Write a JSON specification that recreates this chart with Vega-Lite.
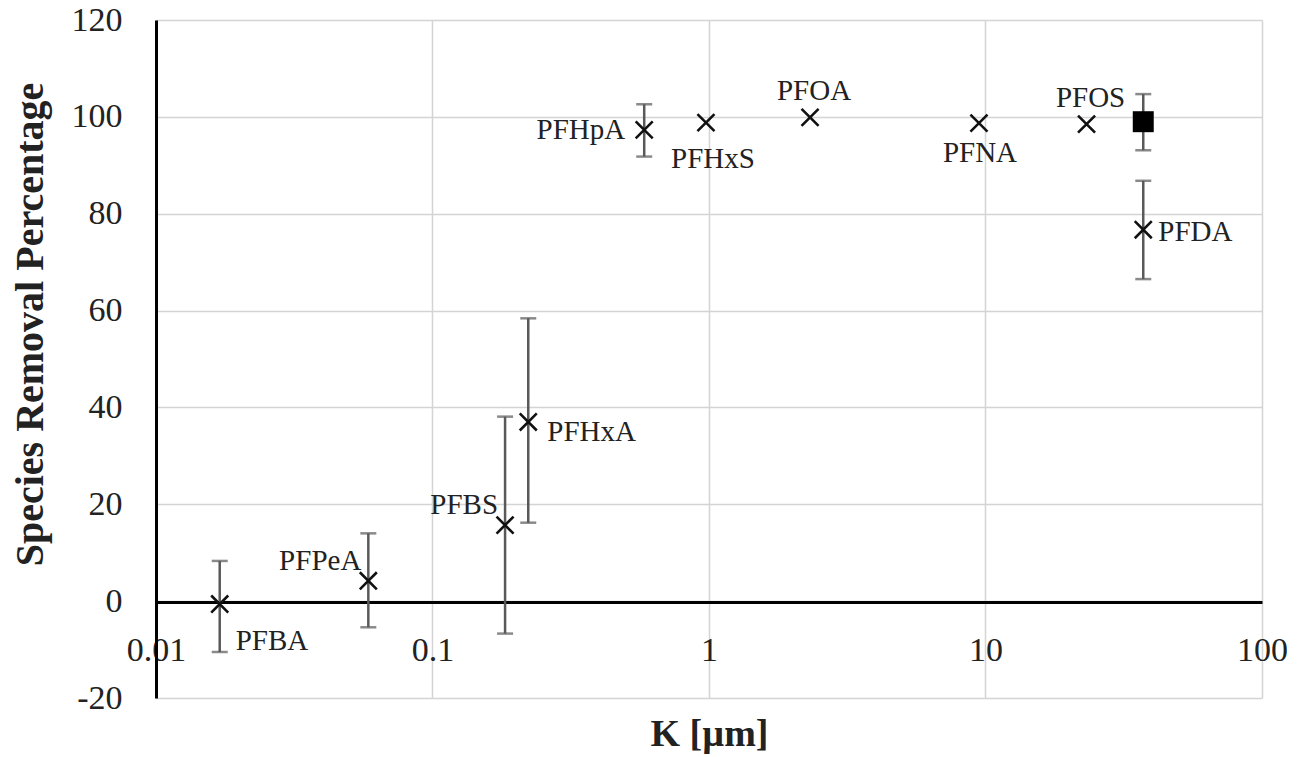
{
  "$schema": "https://vega.github.io/schema/vega-lite/v6.json",
  "autosize": {"type": "none"},
  "padding": {"left": 156, "top": 20, "right": 49, "bottom": 59},
  "width": 1106,
  "height": 678,
  "background": "white",
  "config": {
    "view": {"stroke": null},
    "font": "Liberation Serif",
    "axis": {"labelFont": "Liberation Serif", "titleFont": "Liberation Serif", "labelColor": "#222", "titleColor": "#222"}
  },
  "data": {
    "values": [
      {"species": "PFBA", "k": 0.0170, "pct": -0.6, "lo": -10.5, "hi": 8.3, "kind": "x"},
      {"species": "PFPeA", "k": 0.0586, "pct": 4.2, "lo": -5.4, "hi": 14.0, "kind": "x"},
      {"species": "PFBS", "k": 0.183, "pct": 15.7, "lo": -6.7, "hi": 38.1, "kind": "x"},
      {"species": "PFHxA", "k": 0.222, "pct": 37.0, "lo": 16.2, "hi": 58.4, "kind": "x"},
      {"species": "PFHpA", "k": 0.583, "pct": 97.3, "lo": 91.8, "hi": 102.6, "kind": "x"},
      {"species": "PFHxS", "k": 0.975, "pct": 98.8, "lo": null, "hi": null, "kind": "x"},
      {"species": "PFOA", "k": 2.32, "pct": 99.9, "lo": null, "hi": null, "kind": "x"},
      {"species": "PFNA", "k": 9.47, "pct": 98.7, "lo": null, "hi": null, "kind": "x"},
      {"species": "PFOS", "k": 23.2, "pct": 98.5, "lo": null, "hi": null, "kind": "x"},
      {"species": "PFDA", "k": 37.2, "pct": 76.7, "lo": 66.5, "hi": 86.8, "kind": "x"},
      {"species": "Total", "k": 37.2, "pct": 99.0, "lo": 93.1, "hi": 104.7, "kind": "square"}
    ]
  },
  "encoding": {
    "x": {
      "field": "k", "type": "quantitative",
      "scale": {"type": "log", "domain": [0.01, 100], "nice": false},
      "axis": {
        "title": "K [µm]", "titleFontSize": 38, "titleFontWeight": "bold", "titleY": 143, "titleBaseline": "alphabetic",
        "values": [0.01, 0.1, 1, 10, 100], "format": "~g",
        "offset": -96, "labelFlush": false, "labelOverlap": false,
        "labelFontSize": 34, "labelBaseline": "alphabetic", "labelPadding": 58,
        "ticks": false, "domainColor": "#000", "domainWidth": 3,
        "grid": true, "gridColor": "#d4d4d4", "gridWidth": 1.5
      }
    },
    "y": {
      "field": "pct", "type": "quantitative",
      "scale": {"domain": [-20, 120], "nice": false},
      "axis": {
        "title": "Species Removal Percentage", "titleFontSize": 40, "titleFontWeight": "bold",
        "titleX": -114, "titleY": 304, "titleBaseline": "alphabetic", "titleAlign": "center", "titleAngle": -90,
        "values": [-20, 0, 20, 40, 60, 80, 100, 120],
        "labelExpr": "datum.value < 0 ? '-' + abs(datum.value) : '' + datum.value",
        "labelFontSize": 34, "labelPadding": 34, "ticks": false,
        "domainColor": "#000", "domainWidth": 3,
        "grid": true, "gridColor": "#d4d4d4", "gridWidth": 1.5
      }
    }
  },
  "layer": [
    {
      "transform": [{"filter": "datum.lo != null"}],
      "mark": {"type": "errorbar", "ticks": {"size": 16, "thickness": 2.5, "color": "#595959"}, "rule": {"strokeWidth": 2.5, "color": "#595959"}},
      "encoding": {
        "y": {"field": "lo", "type": "quantitative", "title": "Species Removal Percentage"},
        "y2": {"field": "hi"}
      }
    },
    {
      "transform": [{"filter": "datum.kind == 'x'"}],
      "mark": {"type": "point", "shape": "M-1,-1L1,1M-1,1L1,-1", "filled": false, "stroke": "#111", "strokeWidth": 2.6, "size": 290, "opacity": 1}
    },
    {
      "transform": [{"filter": "datum.kind == 'square'"}],
      "mark": {"type": "point", "shape": "square", "filled": true, "color": "#000", "size": 440, "opacity": 1}
    },
    {
      "transform": [{"filter": {"field": "species", "oneOf": ["PFOA", "PFOS"]}}],
      "mark": {"type": "text", "fontSize": 29, "color": "#222", "align": "center", "baseline": "middle", "dx": 4, "dy": -26},
      "encoding": {"text": {"field": "species"}}
    },
    {
      "transform": [{"filter": {"field": "species", "oneOf": ["PFHxS"]}}],
      "mark": {"type": "text", "fontSize": 29, "color": "#222", "align": "center", "baseline": "middle", "dx": 7, "dy": 36},
      "encoding": {"text": {"field": "species"}}
    },
    {
      "transform": [{"filter": {"field": "species", "oneOf": ["PFNA"]}}],
      "mark": {"type": "text", "fontSize": 29, "color": "#222", "align": "center", "baseline": "middle", "dx": 1, "dy": 30},
      "encoding": {"text": {"field": "species"}}
    },
    {
      "transform": [{"filter": {"field": "species", "oneOf": ["PFDA"]}}],
      "mark": {"type": "text", "fontSize": 29, "color": "#222", "align": "left", "baseline": "middle", "dx": 15, "dy": 2},
      "encoding": {"text": {"field": "species"}}
    },
    {
      "transform": [{"filter": {"field": "species", "oneOf": ["PFHxA"]}}],
      "mark": {"type": "text", "fontSize": 29, "color": "#222", "align": "left", "baseline": "middle", "dx": 19, "dy": 10},
      "encoding": {"text": {"field": "species"}}
    },
    {
      "transform": [{"filter": {"field": "species", "oneOf": ["PFHpA"]}}],
      "mark": {"type": "text", "fontSize": 29, "color": "#222", "align": "right", "baseline": "middle", "dx": -19, "dy": 0},
      "encoding": {"text": {"field": "species"}}
    },
    {
      "transform": [{"filter": {"field": "species", "oneOf": ["PFPeA", "PFBS"]}}],
      "mark": {"type": "text", "fontSize": 29, "color": "#222", "align": "right", "baseline": "middle", "dx": -7, "dy": -20},
      "encoding": {"text": {"field": "species"}}
    },
    {
      "transform": [{"filter": {"field": "species", "oneOf": ["PFBA"]}}],
      "mark": {"type": "text", "fontSize": 29, "color": "#222", "align": "left", "baseline": "middle", "dx": 16, "dy": 37},
      "encoding": {"text": {"field": "species"}}
    }
  ]
}
